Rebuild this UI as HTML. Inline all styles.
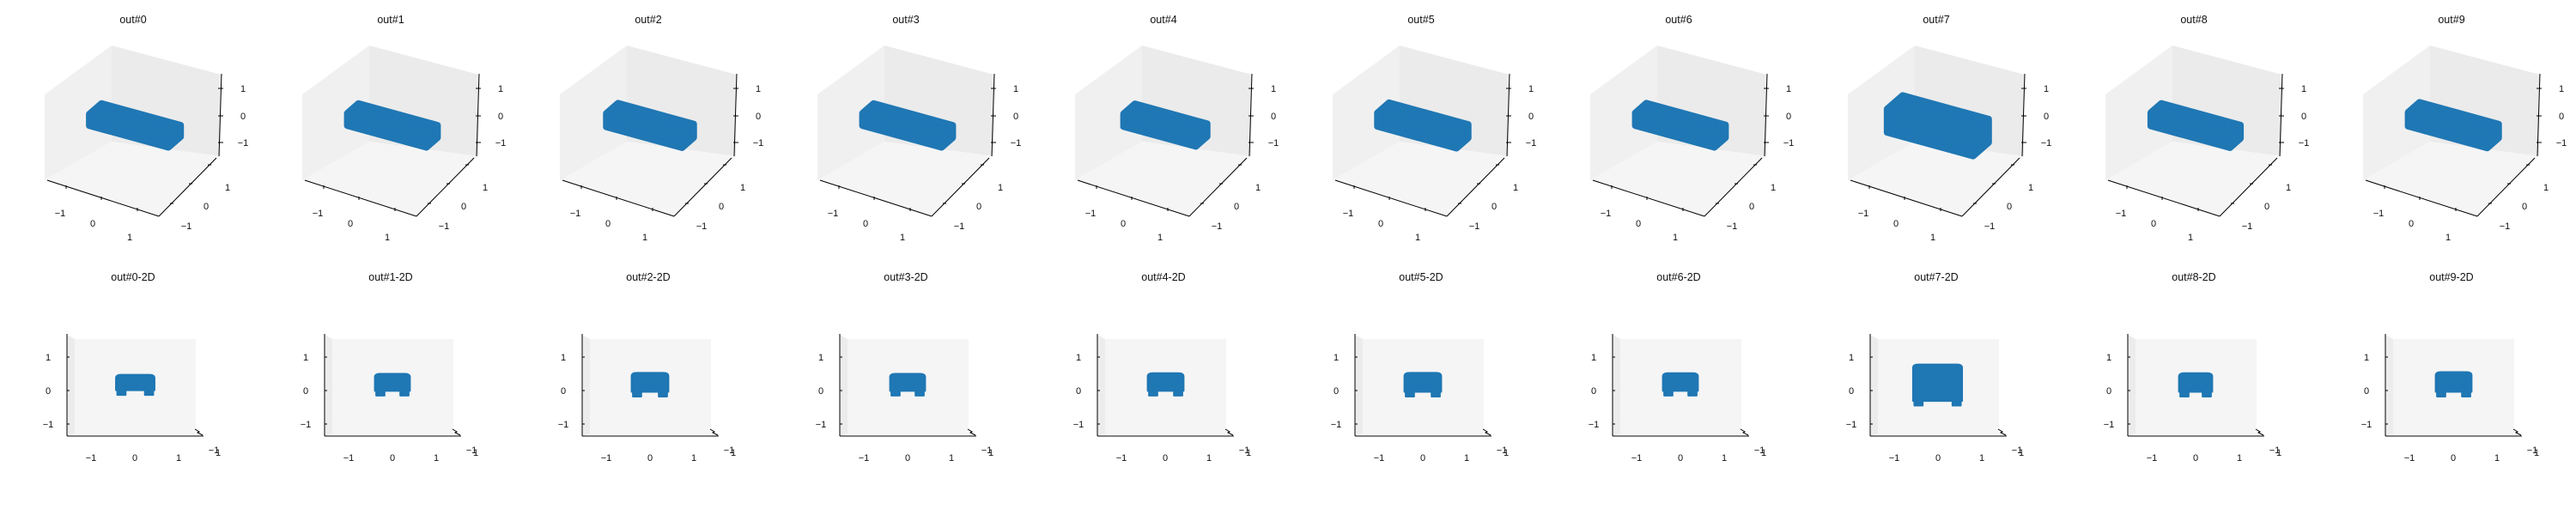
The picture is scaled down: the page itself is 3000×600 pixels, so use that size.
<!DOCTYPE html>
<html><head><meta charset="utf-8">
<style>
html,body{margin:0;padding:0;background:#fff;}
svg{display:block;font-family:"Liberation Sans","DejaVu Sans",sans-serif;}
</style></head>
<body>
<svg id="fig" width="3000" height="600" viewBox="0 0 3000 600" xmlns="http://www.w3.org/2000/svg"></svg>
<script>
const panelTitles = ["out#0","out#1","out#2","out#3","out#4","out#5","out#6","out#7","out#8","out#9"];
const carXMin = [-0.43,-0.40,-0.42,-0.40,-0.40,-0.42,-0.40,-0.57,-0.38,-0.40];
const carXMax = [0.45,0.40,0.42,0.40,0.42,0.42,0.40,0.55,0.38,0.42];
const carZTop = [0.47,0.50,0.53,0.50,0.52,0.53,0.52,0.78,0.52,0.55];
const carZBot = [-0.13,-0.15,-0.18,-0.15,-0.15,-0.18,-0.15,-0.45,-0.18,-0.18];
const carLength = [2.3,2.3,2.2,2.3,2.1,2.3,2.3,2.5,2.3,2.3];
const tickVals = [-1,0,1];
const tickLabels = ["\u22121","0","1"];

const NS = "http://www.w3.org/2000/svg";
const fig = document.getElementById("fig");
const BLUE = "#1f77b4";
function mk(tag, attrs, parent){const e=document.createElementNS(NS,tag);for(const k in attrs)e.setAttribute(k,attrs[k]);parent.appendChild(e);return e;}
function txt(s,x,y,parent,size,anchor){const t=mk("text",{x:x,y:y,"font-size":size||11,"text-anchor":anchor||"middle",fill:"#111"},parent);t.textContent=s;return t;}
function p3(x,y,z){return [157+40*x+16*y, 150+11*x-14*y-22*z];}
function sx(x){return 157+51*x;}
function sz(z){return 455-39*z;}
function hull(pts){pts=pts.slice().sort((a,b)=>a[0]-b[0]||a[1]-b[1]);const cr=(o,a,b)=>(a[0]-o[0])*(b[1]-o[1])-(a[1]-o[1])*(b[0]-o[0]);const lo=[],up=[];for(const p of pts){while(lo.length>=2&&cr(lo[lo.length-2],lo[lo.length-1],p)<=0)lo.pop();lo.push(p);}for(let i=pts.length-1;i>=0;i--){const p=pts[i];while(up.length>=2&&cr(up[up.length-2],up[up.length-1],p)<=0)up.pop();up.push(p);}up.pop();lo.pop();return lo.concat(up);}

for(let i=0;i<panelTitles.length;i++){
  const g=mk("g",{transform:`translate(${i*300},0)`},fig);
  
  
  const t=txt(panelTitles[i],155,27,g,12.5);
  
  
  const lp=mk("polygon",{points:"52,110 130,53 130,165 52,210",fill:"#f0f0f0"},g);
  
  
  const bp=mk("polygon",{points:"130,53 258,87 257,182 130,165",fill:"#ebebeb"},g);
  
  
  const fp=mk("polygon",{points:"52,210 130,165 257,182 185,252",fill:"#f5f5f5"},g);
  
  
  mk("line",{x1:55,y1:210,x2:185,y2:252,stroke:"#000","stroke-width":1},g);
  mk("line",{x1:185,y1:252,x2:252,y2:184,stroke:"#000","stroke-width":1},g);
  mk("line",{x1:258,y1:86,x2:255,y2:182,stroke:"#000","stroke-width":1},g);
  const xt=[[77,218],[118,231],[160,244]], xl=[[70,252],[108,264],[151,280]];
  const yt=[[244,192],[222,214],[200,237]], yl=[[265,222],[240,244],[217,267]];
  const zt=[166,135,103];
  for(let k=0;k<3;k++){
    mk("line",{x1:xt[k][0],y1:xt[k][1]-2,x2:xt[k][0],y2:xt[k][1]+2,stroke:"#000","stroke-width":1},g);
    const a=txt(tickLabels[k],xl[k][0],xl[k][1],g,11);
    
    
    mk("line",{x1:yt[2-k][0]-2,y1:yt[2-k][1],x2:yt[2-k][0]+2,y2:yt[2-k][1],stroke:"#000","stroke-width":1},g);
    const b=txt(tickLabels[k],yl[2-k][0],yl[2-k][1],g,11);
    
    
    mk("line",{x1:254,y1:zt[k],x2:260,y2:zt[k],stroke:"#000","stroke-width":1},g);
    const c=txt(tickLabels[k],283,zt[k]+4,g,11);
    
    
  }
  const L=carLength[i]/2, w0=carXMin[i], w1=carXMax[i], z0=carZBot[i], z1=carZTop[i];
  const pts=[];
  for(const x of [-L,L])for(const y of [w0,w1])for(const z of [z0,z1])pts.push(p3(x,y,z));
  const h=hull(pts);
  const blob=mk("polygon",{points:h.map(p=>p.join(",")).join(" "),fill:BLUE,stroke:BLUE,"stroke-width":8,"stroke-linejoin":"round"},g);
  
  

  const g2=mk("g",{transform:`translate(${i*300},0)`},fig);
  
  
  const t2=txt(panelTitles[i]+"-2D",155,327,g2,12.5);
  
  
  const pn=mk("rect",{x:80,y:395,width:148,height:111,fill:"#f5f5f5"},g2);
  
  
  mk("polygon",{points:"78,390 87,395 87,505 78,508",fill:"#ececec"},g2);
  mk("line",{x1:78,y1:389,x2:78,y2:508,stroke:"#000","stroke-width":1},g2);
  mk("line",{x1:78,y1:508,x2:237,y2:508,stroke:"#000","stroke-width":1},g2);
  mk("polyline",{points:"227,500 232,503 230,504 236,507",fill:"none",stroke:"#000","stroke-width":1},g2);
  for(let k=0;k<3;k++){
    const v=tickVals[k];
    mk("line",{x1:78,y1:sz(v),x2:81,y2:sz(v),stroke:"#000","stroke-width":1},g2);
    const a=txt(tickLabels[k],56,sz(v)+4,g2,11);
    
    
    const b=txt(tickLabels[k],sx(v),537,g2,11);
    
    
  }
  txt("\u22121",249,528,g2,11);
  txt("1",254,531,g2,11);
  const bodyBot=z0+0.14, wh=0.22;
  const d=`M${sx(w0)},${sz(bodyBot)} L${sx(w0)},${sz(z1-0.1)} Q${sx(w0)},${sz(z1)} ${sx(w0+0.12)},${sz(z1)} L${sx(w1-0.12)},${sz(z1)} Q${sx(w1)},${sz(z1)} ${sx(w1)},${sz(z1-0.1)} L${sx(w1)},${sz(bodyBot)} L${sx(w1-0.03)},${sz(bodyBot)} L${sx(w1-0.03)},${sz(z0)} L${sx(w1-wh)},${sz(z0)} L${sx(w1-wh)},${sz(bodyBot)} L${sx(w0+wh)},${sz(bodyBot)} L${sx(w0+wh)},${sz(z0)} L${sx(w0+0.03)},${sz(z0)} L${sx(w0+0.03)},${sz(bodyBot)} Z`;
  const c2=mk("path",{d:d,fill:BLUE,stroke:BLUE,"stroke-width":2,"stroke-linejoin":"round"},g2);
  
  
}
</script>
</body></html>
